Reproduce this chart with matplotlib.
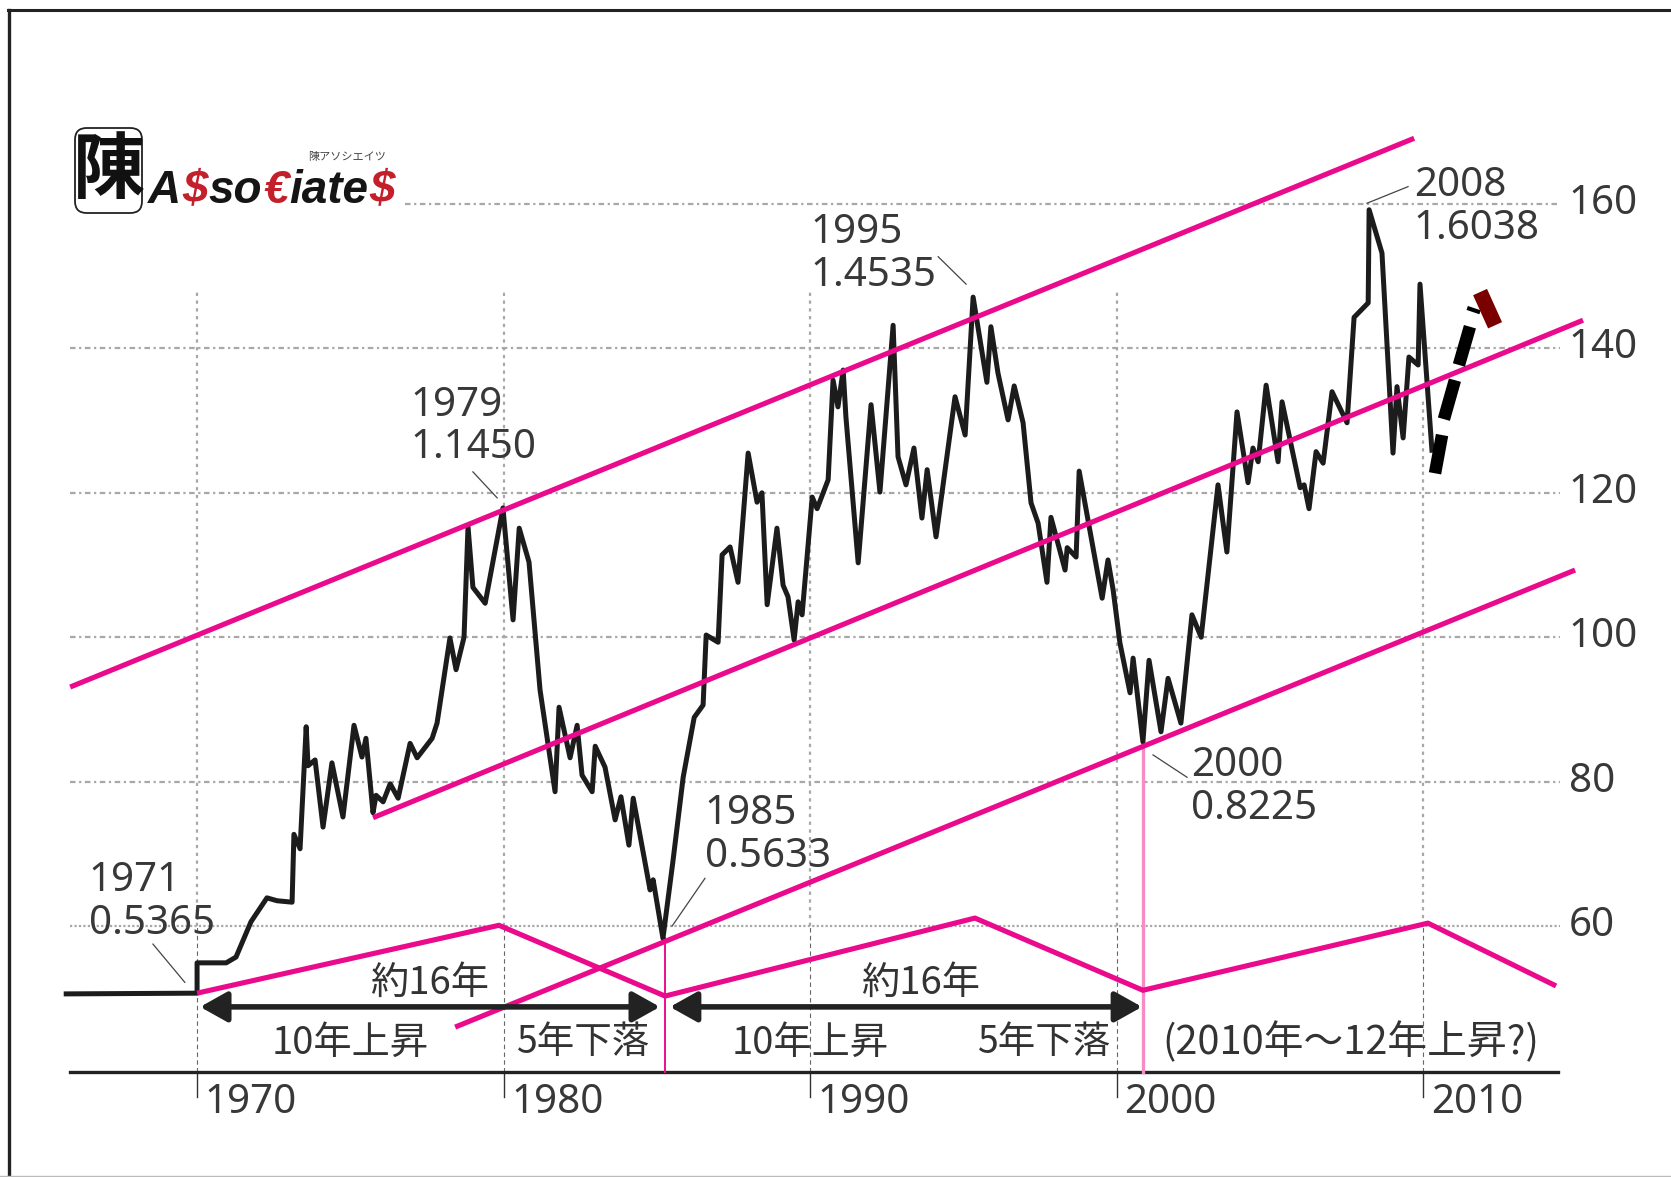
import matplotlib
matplotlib.use('Agg')
import matplotlib.pyplot as plt
from matplotlib.lines import Line2D
from matplotlib.patches import FancyBboxPatch

plt.rcParams['font.family'] = ['Noto Sans CJK JP', 'DejaVu Sans']
num_font = ['Noto Sans', 'DejaVu Sans']
num_dy = -0.55  # Noto Sans sits a bit high with va=center

# price series
years = [1965.73, 1970.0, 1970.0, 1970.95, 1971.27, 1971.76, 1972.28, 1972.61, 1973.1, 1973.16, 1973.36, 1973.56,
         1973.62, 1973.85, 1974.11, 1974.40, 1974.76, 1975.12, 1975.38, 1975.51, 1975.74, 1975.84, 1976.07, 1976.30,
         1976.56, 1976.95, 1977.18, 1977.67, 1977.83, 1978.25, 1978.45, 1978.71, 1978.84, 1979.0, 1979.40, 1979.98,
         1980.31, 1980.51, 1980.83, 1981.19, 1981.68, 1981.81, 1982.17, 1982.40, 1982.56, 1982.89, 1982.99, 1983.31,
         1983.64, 1983.83, 1984.09, 1984.23, 1984.36, 1984.78, 1984.88, 1985.20, 1985.53, 1985.86, 1986.22, 1986.51,
         1986.61, 1987.0, 1987.13, 1987.39, 1987.65, 1987.98, 1988.27, 1988.43, 1988.6, 1988.92, 1989.12, 1989.28,
         1989.48, 1989.61, 1989.74, 1990.07, 1990.23, 1990.59, 1990.75, 1990.91, 1991.08, 1991.17, 1991.57, 1991.99,
         1992.28, 1992.71, 1992.87, 1993.13, 1993.39, 1993.65, 1993.82, 1994.11, 1994.73, 1995.06, 1995.32, 1995.77,
         1995.9, 1996.13, 1996.46, 1996.66, 1996.95, 1997.21, 1997.44, 1997.73, 1997.86, 1998.32, 1998.39, 1998.68,
         1998.78, 1999.53, 1999.72, 1999.89, 2000.11, 2000.44, 2000.54, 2000.86, 2001.06, 2001.45, 2001.68, 2002.1,
         2002.46, 2002.76, 2003.31, 2003.6, 2003.93, 2004.29, 2004.45, 2004.62, 2004.88, 2005.27, 2005.4, 2005.99,
         2006.12, 2006.28, 2006.51, 2006.74, 2007.03, 2007.52, 2007.75, 2008.21, 2008.24, 2008.66, 2009.02, 2009.15,
         2009.35, 2009.54, 2009.84, 2009.9, 2010.29]
prices = [50.6, 50.7, 54.9, 54.9, 55.7, 60.6, 63.9, 63.5, 63.3, 72.7, 70.7, 87.6,
          82.2, 83.0, 73.7, 82.6, 75.1, 87.8, 83.4, 86.0, 75.7, 78.1, 77.2, 79.7,
          77.7, 85.3, 83.3, 86.0, 88.1, 99.9, 95.5, 100.0, 115.3, 106.9, 104.7, 117.9,
          102.4, 115.1, 110.4, 92.7, 78.6, 90.3, 83.3, 87.8, 80.9, 78.6, 84.9, 82.0,
          74.7, 77.9, 71.2, 77.7, 74.7, 65.0, 66.4, 58.3, 69.1, 80.6, 88.9, 90.6,
          100.3, 99.3, 111.4, 112.5, 107.6, 125.5, 118.7, 120.0, 104.5, 115.1, 107.2, 105.6,
          99.6, 104.9, 103.1, 119.4, 117.8, 121.8, 135.6, 131.9, 137.0, 130.5, 110.3, 132.2,
          120.1, 143.2, 125.0, 121.1, 126.2, 116.5, 123.2, 113.9, 133.3, 128.0, 147.1, 135.3,
          143.0, 136.6, 130.1, 134.8, 129.7, 118.6, 115.8, 107.6, 116.6, 109.3, 112.4, 111.1,
          123.0, 105.4, 110.7, 106.5, 99.2, 92.3, 97.1, 85.5, 96.8, 86.9, 94.3, 88.1,
          103.1, 100.0, 121.1, 111.8, 131.2, 121.4, 126.2, 124.3, 134.9, 124.3, 132.6, 120.7,
          121.1, 117.8, 125.7, 124.1, 134.0, 129.7, 144.3, 146.3, 159.2, 153.2, 125.5, 134.7,
          127.6, 138.8, 137.7, 148.9, 125.9]

# channel lines
top_x = [1965.86, 2009.71]
top_y = [93.1, 169.1]
mid_x = [1975.74, 2015.22]
mid_y = [75.0, 143.9]
low_x = [1978.42, 2014.96]
low_y = [46.0, 109.3]
# cycle zigzag
zig_x = [1970, 1979.85, 1985.27, 1995.38, 2000.86, 2010.16, 2014.34]
zig_y = [50.7, 60.1, 50.3, 61.1, 51.1, 60.4, 51.7]

# forecast dashes and the red end piece
dashes = [([2010.39, 2010.62], [122.7, 128.0]),
          ([2010.68, 2011.04], [130.2, 135.6]),
          ([2011.17, 2011.53], [137.7, 143.0])]
thin_x = [2011.44, 2011.86]
thin_y = [145.6, 145.0]
red_x = [2011.86, 2012.35]
red_y = [147.8, 143.2]

ytick_vals = [160, 140, 120, 100, 80, 60]
xtick_vals = [1970, 1980, 1990, 2000, 2010]

# year, value text, text position, leader line
notes = [('1979', '1.1450', 1976.95, 132.6, 126.8, [1979.0, 1979.79], [122.9, 119.3]),
         ('1995', '1.4535', 1990.0, 156.5, 150.6, [1994.18, 1995.09], [152.7, 148.9]),
         ('2008', '1.6038', 2009.7, 163.0, 157.1, [2008.17, 2009.51], [160.1, 162.4]),
         ('1971', '0.5365', 1966.46, 66.8, 60.8, [1968.56, 1969.6], [57.5, 52.2]),
         ('1985', '0.5633', 1986.57, 76.1, 70.1, [1986.57, 1985.5], [66.6, 60.0]),
         ('2000', '0.8225', 2002.43, 82.7, 76.8, [2001.19, 2002.3], [83.7, 80.6])]

fig = plt.figure(figsize=(16.71, 11.77), dpi=100)
ax = fig.add_axes([0, 0, 1, 1])
ax.set_xlim(1963.57, 2018.09)
ax.set_ylim(25.24, 188.25)
ax.axis('off')

# frame of the scan
fig.add_artist(Line2D([9 / 1671, 9 / 1671], [0, 1 - 10 / 1177], color='#222222', lw=2.4))
fig.add_artist(Line2D([8 / 1671, 1], [1 - 10 / 1177, 1 - 10 / 1177], color='#222222', lw=2.2))
fig.add_artist(Line2D([0, 1], [1 / 1177, 1 / 1177], color='#bbbbbb', lw=1))

# grid
for v in ytick_vals:
    start = 1976.79 if v == 160 else 1965.85
    ls = (0, (1, 1)) if v == 60 else (0, (2.5, 1.6, 1, 1.6))
    ax.plot([start, 2014.47], [v, v], color='#a8a8a8', lw=1.6, ls=ls, zorder=1)
    ax.text(2014.75, v + 0.55 + num_dy, str(v), fontsize=29, family=num_font, color='#383838', va='center', ha='left')

for yr in xtick_vals:
    top = 132.9 if yr == 2010 else 148.1
    ax.plot([yr, yr], [60, top], color='#a8a8a8', lw=1.6, ls=(0, (1.5, 2)), zorder=1)
    ax.plot([yr, yr], [39.8, 60], color='#666666', lw=0.8, ls=(0, (4, 3)), zorder=1)
    ax.plot([yr, yr], [36.3, 39.8], color='#333333', lw=1, zorder=2)
    ax.text(yr + 0.25, 36.0 + num_dy, str(yr), fontsize=29, family=num_font, color='#383838', va='center', ha='left')

ax.plot([1965.85, 2014.4], [39.8, 39.8], color='#222222', lw=2.4, zorder=2)

# thin pink verticals
ax.plot([1985.27, 1985.27], [39.8, 58.3], color='#e8108c', lw=1.4, zorder=3)
ax.plot([2000.86, 2000.86], [39.8, 85.5], color='#f58cc4', lw=2.4, zorder=3)

# price
ax.plot(years, prices, color='#1c1c1c', lw=3.6, solid_joinstyle='round', zorder=3)

# pink lines
for xs, ys in [(top_x, top_y), (mid_x, mid_y), (low_x, low_y), (zig_x, zig_y)]:
    ax.plot(xs, ys, color='#ea0a8c', lw=3.7, solid_capstyle='butt', zorder=4)

# forecast
for xs, ys in dashes:
    ax.plot(xs, ys, color='black', lw=9, solid_capstyle='butt', zorder=5)
ax.plot(thin_x, thin_y, color='black', lw=3, solid_capstyle='butt', zorder=5)
ax.plot(red_x, red_y, color='#7a0000', lw=11, solid_capstyle='butt', zorder=5)

# leader lines and notes
for year, value, tx, y1, y2, lx, ly in notes:
    ax.plot(lx, ly, color='#444444', lw=0.9, zorder=5)
    ax.text(tx, y1 + num_dy, year, fontsize=29, family=num_font, color='#383838', va='center', ha='left', zorder=6)
    ax.text(tx, y2 + num_dy, value, fontsize=29, family=num_font, color='#383838', va='center', ha='left', zorder=6)

# 16 year arrows
for x0, x1 in [(1970.1, 1985.1), (1985.43, 2000.83)]:
    ax.annotate('', xy=(x1, 48.8), xytext=(x0, 48.8), zorder=6,
                arrowprops=dict(arrowstyle='<|-|>,head_length=0.75,head_width=0.42', color='#222222',
                                lw=4, shrinkA=0, shrinkB=0, mutation_scale=22))

for x in [1977.57, 1993.59]:
    ax.text(x, 52.0, '約16年', fontsize=27.5, color='#333333', ha='center', va='center', zorder=7)
for x in [1974.99, 1990.0]:
    ax.text(x, 43.8, '10年上昇', fontsize=27.5, color='#333333', ha='center', va='center', zorder=7)
for x in [1982.59, 1997.63]:
    ax.text(x, 43.8, '5年下落', fontsize=27, color='#333333', ha='center', va='center', zorder=7)
ax.text(2007.65, 43.8, '(2010年～12年上昇?)', fontsize=28.6, color='#333333', ha='center', va='center', zorder=7)

# logo, placed in figure pixels
W, H = 1671.0, 1177.0
box = FancyBboxPatch((75 / W, 1 - 213 / H), 67 / W, 85 / H, transform=fig.transFigure,
                     boxstyle='round,pad=0,rounding_size=0.007', mutation_aspect=W / H,
                     fc='white', ec='#222222', lw=1.3, zorder=8)
ax.add_patch(box)
fig.text(108.5 / W, 1 - 172 / H, '陳', fontsize=52, fontweight='bold', color='#111111',
         ha='center', va='center', zorder=9)
fig.text(347 / W, 1 - 157 / H, '陳アソシエイツ', fontsize=8, color='#444444', ha='center', va='center')

fig.canvas.draw()
renderer = fig.canvas.get_renderer()
logo_parts = [('A', '#151515'), ('$', '#c4202b'), ('so', '#151515'), ('€', '#c4202b'),
              ('iate', '#151515'), ('$', '#c4202b')]
px = 148.0
for part, col in logo_parts:
    t = fig.text(px / W, 1 - 203 / H, part, fontsize=33, fontweight='bold', style='italic',
                 family='Liberation Sans', color=col, ha='left', va='baseline')
    px += t.get_window_extent(renderer).width + 1

fig.savefig('out.png', dpi=100)
